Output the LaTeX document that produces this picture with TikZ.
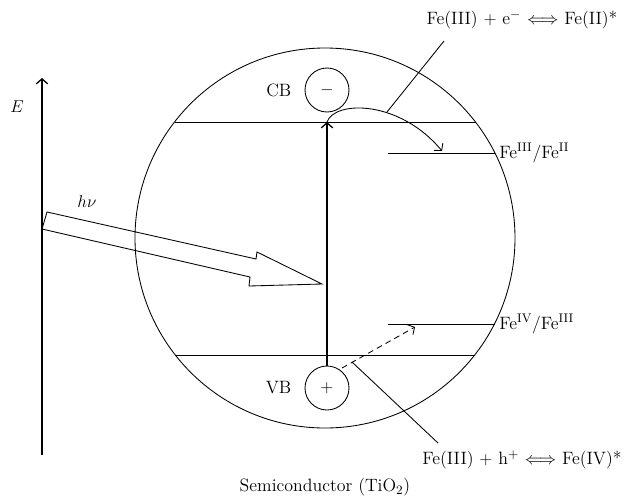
\documentclass[tikz,border=0pt]{standalone}
\usepackage{amsmath}
\usepackage{tikz}
\usetikzlibrary{arrows.meta,positioning}

\begin{document}
\begin{tikzpicture}[
      x=0.7pt, y=-0.7pt,
      line width=0.6pt,
      arr/.style={-{Straight Barb[length=3.5pt,width=8pt]}},
      carrier/.style={draw, circle, minimum size=30.8pt, inner sep=0pt, font=\fontsize{12.5}{14}\selectfont},
      lbl/.style={font=\fontsize{12.5}{14}\selectfont, inner sep=0pt}
    ]
      \useasboundingbox (0,0) rectangle (630,497);

      % semiconductor particle
      \node[draw, circle, minimum size=266pt, inner sep=0pt] (sc) at (325,238) {};
      \node[carrier] (cbh) at (327,90) {$-$};
      \node[carrier] (vbh) at (327,388) {$+$};
      \node[lbl, left=9pt of cbh] (cb) {CB};
      \node[lbl, left=9pt of vbh] (vb) {VB};

      % band edges
      \coordinate (cbL) at (174.5,122);
      \coordinate (cbR) at (475.5,122);
      \coordinate (vbL) at (175,355);
      \coordinate (vbR) at (475,355);
      \draw (cbL) -- (cbR);
      \draw (vbL) -- (vbR);

      % energy axis
      \coordinate (axbot) at (42,455);
      \coordinate (axtop) at (42,78);
      \draw[arr, line width=0.9pt] (axbot) -- (axtop);
      \node[lbl] (E) at (17,107) {$E$};

      % light
      \node[lbl] (hv) at (87,202) {$h\nu$};
      \draw (47,212) -- (256,259) -- (257,252) -- (322,284) -- (249,286)
            -- (250,277) -- (42,229) -- cycle;

      % excitation
      \coordinate (cbtip) at (327,122);
      \draw[arr, line width=0.9pt] (vbh) -- (cbtip);

      % Fe levels
      \coordinate (f32a) at (388,153);
      \coordinate (f32b) at (495,153);
      \coordinate (f43a) at (388,324);
      \coordinate (f43b) at (494.5,324);
      \draw (f32a) -- (f32b);
      \draw (f43a) -- (f43b);
      \node[lbl, anchor=west] (f32) at (499,153) {Fe\textsuperscript{III}/Fe\textsuperscript{II}};
      \node[lbl, anchor=west] (f43) at (499,324) {Fe\textsuperscript{IV}/Fe\textsuperscript{III}};

      % electron transfer
      \coordinate (f32tip) at (442,151);
      \draw[arr] (cbtip) .. controls (335,100) and (400,100) .. (f32tip);

      % hole transfer
      \coordinate (hstart) at (342,368);
      \coordinate (f43tip) at (415,327);
      \draw[arr, dash pattern=on 4pt off 3pt] (hstart) -- (f43tip);

      % reactions
      \node[lbl] (rxn1) at (522,20) {Fe(III) $+$ e$^{-}$ $\Longleftrightarrow$ Fe(II)*};
      \node[lbl] (rxn2) at (522,460) {Fe(III) $+$ h$^{+}$ $\Longleftrightarrow$ Fe(IV)*};
      \coordinate (eX) at (387,112);
      \coordinate (lead1) at (444,41);
      \coordinate (hX) at (352,362);
      \coordinate (lead2) at (438,443);
      \draw (eX) -- (lead1);
      \draw (hX) -- (lead2);

      \node[lbl] (sclbl) at (325,487) {Semiconductor (TiO$_2$)};
    \end{tikzpicture}
\end{document}
